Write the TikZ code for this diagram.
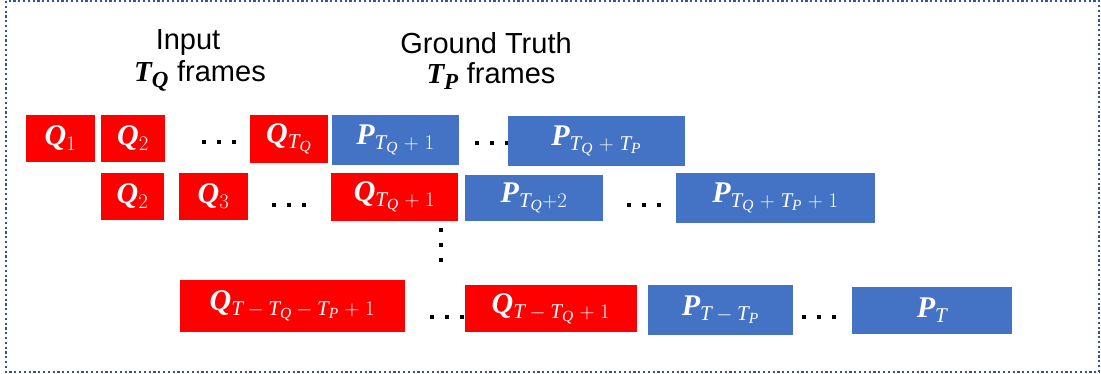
\documentclass[tikz,border=0pt]{standalone}
\usepackage{fontspec}
\setmainfont{Liberation Serif}
\newfontfamily\labelfont{Liberation Sans}
\usepackage{xcolor}
\usetikzlibrary{positioning}

\DeclareMathAlphabet{\mathbi}{TU}{\rmdefault}{b}{it}
\DeclareMathAlphabet{\mathti}{TU}{\rmdefault}{m}{it}
\DeclareMathSizes{30}{30}{21}{15.5}
\DeclareMathSizes{29}{29}{23}{17}

\definecolor{qred}{HTML}{FF0000}
\definecolor{pblue}{HTML}{4472C4}
\definecolor{framecol}{HTML}{2F5597}

\newcommand{\dotrow}{\rule{4pt}{4pt}\hspace{11pt}\rule{4pt}{4pt}\hspace{11pt}\rule{4pt}{4pt}}
\newcommand{\pl}{\mkern5mu{+}\mkern5mu}
\newcommand{\mi}{\mkern4mu{-}\mkern4mu}
\newcommand{\tq}{\mathti{T}_{\mathti{Q}}}
\newcommand{\tp}{\mathti{T}_{\mathti{P}}}

\begin{document}
\begin{tikzpicture}[x=1pt, y=-1pt,
    qbox/.style={rectangle, fill=qred, text=white, inner sep=0pt,
                 font=\fontsize{30}{32}\selectfont},
    pbox/.style={rectangle, fill=pblue, text=white, inner sep=0pt,
                 font=\fontsize{30}{32}\selectfont},
    dotsnode/.style={inner sep=0pt},
    lbl/.style={inner sep=0pt, font=\labelfont\fontsize{29}{32}\selectfont},
    frame/.style={draw=framecol, line width=2pt, dash pattern=on 2.2pt off 2.6pt}
]
\useasboundingbox (0,0) rectangle (1101,374);
\draw [frame] (6,1) rectangle (1099,372);

% labels
\node (lblin) [lbl] at (188,43) {Input};
\node (lbltq) [lbl] at (200,76) {$\mathbi{T}_{\mathbi{Q}}$ frames};
\node (lblgt) [lbl] at (486,43) {Ground Truth};
\node (lbltp) [lbl] at (491,76) {$\mathbi{T}_{\mathbi{P}}$ frames};

% first row
\node (q11) [qbox, minimum width=69pt, minimum height=47pt] at (60.5,138.5) {$\mathbi{Q}_1$};
\node (q12) [qbox, minimum width=64pt, minimum height=47pt] at (133,138.5) {$\mathbi{Q}_2$};
\node (d1a) [dotsnode] at (219,142) {\dotrow};
\node (q1n) [qbox, minimum width=78pt, minimum height=48pt] at (289,139) {$\mathbi{Q}_{\tq}$};
\node (p11) [pbox, minimum width=127pt, minimum height=50pt] at (395.5,140) {$\mathbi{P}_{\tq\pl 1}$};
\node (d1b) [dotsnode] at (492,143) {\dotrow};
\node (p1n) [pbox, minimum width=177pt, minimum height=50pt] at (596.5,141) {$\mathbi{P}_{\tq\pl\tp}$};

% second row
\node (q22) [qbox, minimum width=63pt, minimum height=47pt] at (132.5,196.5) {$\mathbi{Q}_2$};
\node (q23) [qbox, minimum width=69pt, minimum height=47pt] at (213.5,196.5) {$\mathbi{Q}_3$};
\node (d2a) [dotsnode] at (289,205) {\dotrow};
\node (q2n) [qbox, minimum width=127pt, minimum height=48pt] at (394.5,197) {$\mathbi{Q}_{\tq\pl 1}$};
\node (p21) [pbox, minimum width=138pt, minimum height=46pt] at (534,198) {$\mathbi{P}_{\tq{+}2}$};
\node (d2b) [dotsnode] at (644,205) {\dotrow};
\node (p2n) [pbox, minimum width=199pt, minimum height=50pt] at (775.5,198) {$\mathbi{P}_{\tq\pl\tp\pl 1}$};

% vertical dots
\node (dv) [dotsnode, rotate=90] at (441,245) {\dotrow};

% last row
\node (q31) [qbox, minimum width=225pt, minimum height=52pt] at (292.5,306) {$\mathbi{Q}_{\mathti{T}\mi\tq\mi\tp\pl 1}$};
\node (d3a) [dotsnode] at (447,317) {\dotrow};
\node (q3n) [qbox, minimum width=172pt, minimum height=47pt] at (551,308.5) {$\mathbi{Q}_{\mathti{T}\mi\tq\pl 1}$};
\node (p31) [pbox, minimum width=145pt, minimum height=50pt] at (720.5,310) {$\mathbi{P}_{\mathti{T}\mi\tp}$};
\node (d3b) [dotsnode] at (819,317) {\dotrow};
\node (p3n) [pbox, minimum width=160pt, minimum height=47pt] at (932,310.5) {$\mathbi{P}_{\mathti{T}}$};
\end{tikzpicture}
\end{document}
